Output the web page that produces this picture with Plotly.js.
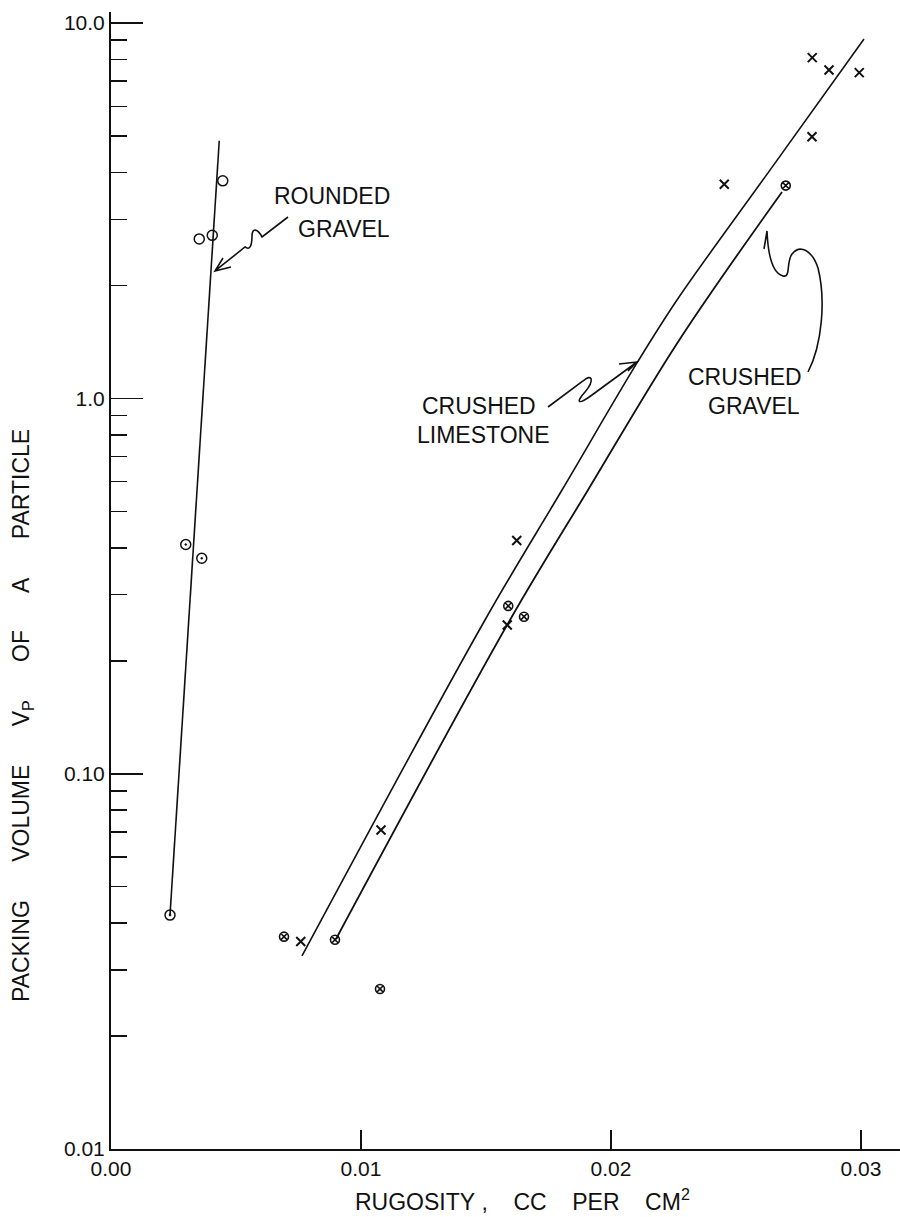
<!DOCTYPE html>
<html>
<head>
<meta charset="utf-8">
<script src="https://cdn.plot.ly/plotly-3.0.1.min.js"></script>
<style>html,body{margin:0;padding:0;background:#fff;}</style>
</head>
<body>
<div id="chart" style="width:900px;height:1217px;"></div>
<script>
// ---- data ----
const roundedX = [0.00447, 0.00353, 0.00405, 0.00299, 0.00363, 0.00236];
const roundedY = [3.80, 2.66, 2.72, 0.408, 0.375, 0.042];
const roundedFitX = [0.00236, 0.00433];
const roundedFitY = [0.042, 4.86];

const limestoneX = [0.02805, 0.02872, 0.02993, 0.02804, 0.02453, 0.01623, 0.01585, 0.0108, 0.00759];
const limestoneY = [8.09, 7.50, 7.38, 4.98, 3.72, 0.418, 0.249, 0.0708, 0.0357];
const limestoneFitX = [0.00764, 0.01496, 0.01804, 0.02104, 0.02264, 0.02628, 0.03012];
const limestoneFitY = [0.0327, 0.2568, 0.570, 1.243, 1.829, 3.99, 9.07];

const crushedGravelX = [0.02699, 0.01589, 0.01652, 0.00692, 0.00896, 0.01076];
const crushedGravelY = [3.69, 0.280, 0.262, 0.0368, 0.0361, 0.0267];
const crushedGravelFitX = [0.0090, 0.01596, 0.01908, 0.02268, 0.02684];
const crushedGravelFitY = [0.03627, 0.2568, 0.570, 1.414, 3.548];

const xTickVals = [0, 0.01, 0.02, 0.03];
const xTickText = ['0.00', '0.01', '0.02', '0.03'];
const yTickVals = [0.01, 0.1, 1, 10];
const yTickText = ['0.01', '0.10', '1.0', '10.0'];

// ---- layout helpers ----
const L = 111, T = 12, W = 789, H = 1137;
const px = x => (x - L) / W;
const py = y => (T + H - y) / H;
function path(cmds) {
  return cmds.map(c => {
    const out = [c[0]];
    for (let i = 1; i < c.length; i += 2) out.push(px(c[i]).toFixed(5) + ',' + py(c[i + 1]).toFixed(5));
    return out.join(' ');
  }).join(' ');
}

const minorVals = [];
for (let e = -2; e <= 0; e++) for (let d = 2; d <= 9; d++) minorVals.push(d * Math.pow(10, e));

const FONT = 'Liberation Sans, Arial, sans-serif';
const sp = '\u00a0';
const gap = n => sp.repeat(n);

const traces = [
  {x: roundedFitX, y: roundedFitY, mode: 'lines', line: {color: '#111', width: 1.6}, hoverinfo: 'skip'},
  {x: limestoneFitX, y: limestoneFitY, mode: 'lines', line: {color: '#111', width: 1.6, shape: 'spline', smoothing: 1}, hoverinfo: 'skip'},
  {x: crushedGravelFitX, y: crushedGravelFitY, mode: 'lines', line: {color: '#111', width: 1.8, shape: 'spline', smoothing: 1}, hoverinfo: 'skip'},
  {x: roundedX, y: roundedY, mode: 'markers', name: 'Rounded gravel',
   marker: {symbol: ['circle-open', 'circle-open', 'circle-open', 'circle-open-dot', 'circle-open-dot', 'circle-open-dot'],
            size: 10, color: '#111', line: {color: '#111', width: 1.5}}},
  {x: limestoneX, y: limestoneY, mode: 'markers', name: 'Crushed limestone',
   marker: {symbol: 'x-thin-open', size: 9, color: '#111', line: {color: '#111', width: 2}}},
  {x: crushedGravelX, y: crushedGravelY, mode: 'markers', name: 'Crushed gravel',
   marker: {symbol: 'circle-x-open', size: 9, color: '#111', line: {color: '#111', width: 1.6}}}
];

function label(text, x, y, anchor) {
  return {text: text, xref: 'paper', yref: 'paper', x: px(x), y: py(y), xanchor: anchor || 'center', yanchor: 'middle',
          showarrow: false, font: {family: FONT, size: 23, color: '#111'}};
}

const annotations = [
  label('ROUNDED', 392, 196, 'right'),
  label('GRAVEL', 392, 229, 'right'),
  label('CRUSHED', 479, 406),
  label('LIMESTONE', 483, 435),
  label('CRUSHED', 745, 377),
  label('GRAVEL', 754, 406),
  {text: 'RUGOSITY' + sp + ',' + gap(4) + 'CC' + gap(4) + 'PER' + gap(4) + 'CM<sup>2</sup>', xref: 'paper', yref: 'paper',
   x: px(522), y: py(1200), xanchor: 'center', yanchor: 'middle', showarrow: false,
   font: {family: FONT, size: 23, color: '#111'}},
  {text: 'PACKING' + gap(5) + ' VOLUME' + gap(5) + ' V<sub>P</sub>' + gap(5) + ' OF' + gap(5) + ' A' + gap(5) + ' PARTICLE',
   xref: 'paper', yref: 'paper', x: px(22), y: py(716), xanchor: 'center', yanchor: 'middle', textangle: -90,
   showarrow: false, font: {family: FONT, size: 23, color: '#111'}}
];

const pen = {color: '#111', width: 1.6};
const shapes = [
  {type: 'path', xref: 'paper', yref: 'paper', line: pen,
   path: path([['M', 288, 217], ['L', 262, 237], ['C', 258, 229, 252, 227, 252, 236], ['C', 252, 245, 250, 251, 245, 247], ['L', 215, 271],
               ['M', 231, 267], ['L', 215, 271], ['L', 223, 258]])},
  {type: 'path', xref: 'paper', yref: 'paper', line: pen,
   path: path([['M', 548, 407], ['L', 583, 381], ['C', 592, 373, 595, 380, 585, 392], ['C', 576, 402, 577, 406, 592, 395], ['L', 637, 362],
               ['M', 619, 364], ['L', 637, 362], ['L', 628, 371]])},
  {type: 'path', xref: 'paper', yref: 'paper', line: pen,
   path: path([['M', 808, 372], ['C', 822, 345, 826, 300, 818, 268], ['C', 812, 250, 800, 244, 792, 254],
               ['C', 786, 262, 791, 278, 783, 276], ['C', 772, 273, 768, 255, 767, 231], ['M', 767, 231], ['L', 764, 249]])}
];

const layout = {
  width: 900, height: 1217,
  margin: {l: L, r: 900 - L - W, t: T, b: 1217 - T - H, pad: 0},
  paper_bgcolor: '#fff', plot_bgcolor: '#fff',
  showlegend: false,
  font: {family: FONT, color: '#111'},
  xaxis: {
    range: [0, W / 25000], tickmode: 'array', tickvals: xTickVals, ticktext: xTickText,
    ticks: 'inside', ticklen: 19, tickwidth: 1.6, tickcolor: '#111',
    showline: true, linewidth: 2, linecolor: '#111', showgrid: false, zeroline: false,
    tickfont: {family: FONT, size: 21, color: '#111'}
  },
  yaxis: {
    type: 'log', range: [-2, -2 + H / 375.3], tickmode: 'array', tickvals: yTickVals, ticktext: yTickText,
    ticks: 'inside', ticklen: 32, tickwidth: 1.6, tickcolor: '#111',
    minor: {tickmode: 'array', tickvals: minorVals, ticks: 'inside', ticklen: 16, tickwidth: 1.6, tickcolor: '#111', showgrid: false},
    showline: true, linewidth: 2, linecolor: '#111', showgrid: false, zeroline: false,
    tickfont: {family: FONT, size: 21, color: '#111'}
  },
  annotations: annotations,
  shapes: shapes
};

Plotly.newPlot('chart', traces, layout, {staticPlot: true, displayModeBar: false});
</script>
</body>
</html>
